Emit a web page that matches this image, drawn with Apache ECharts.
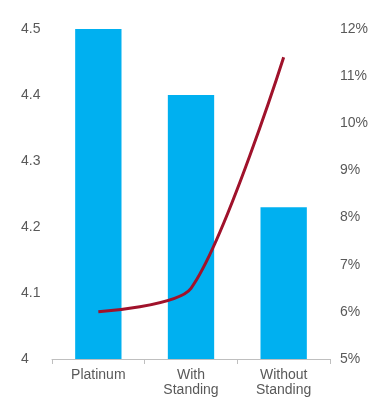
<!DOCTYPE html>
<html>
<head>
<meta charset="utf-8">
<script src="https://cdn.jsdelivr.net/npm/echarts@6/dist/echarts.min.js"></script>
<style>
html,body{margin:0;padding:0;background:#fff;}
#c{width:385px;height:409px;}
</style>
</head>
<body>
<div id="c"></div>
<script>
var categories = ['Platinum', 'With\nStanding', 'Without\nStanding'];
var barValues = [4.5, 4.4, 4.23];
var lineValues = [6.0, 6.5, 11.4];

var chart = echarts.init(document.getElementById('c'), null, {renderer: 'canvas'});
var textColor = '#595959';
var font = 'Liberation Sans, Arial, sans-serif';
chart.setOption({
  animation: false,
  grid: {left: 52, right: 55, top: 29, bottom: 50, containLabel: false},
  xAxis: {
    type: 'category',
    data: categories,
    boundaryGap: true,
    axisLine: {show: true, lineStyle: {color: '#BFBFBF', width: 1}},
    axisTick: {show: true, length: 5, alignWithLabel: false, lineStyle: {color: '#BFBFBF'}},
    axisLabel: {color: textColor, fontSize: 14, fontFamily: font, margin: 9, lineHeight: 15, interval: 0}
  },
  yAxis: [{
    type: 'value', min: 4, max: 4.5, interval: 0.1,
    splitLine: {show: false}, axisLine: {show: false}, axisTick: {show: false},
    axisLabel: {color: textColor, fontSize: 14, fontFamily: font, align: 'left', margin: 31,
      formatter: function (v) { return String(Math.round(v * 10) / 10); }}
  }, {
    type: 'value', min: 5, max: 12, interval: 1, position: 'right',
    splitLine: {show: false}, axisLine: {show: false}, axisTick: {show: false},
    axisLabel: {color: textColor, fontSize: 14, fontFamily: font, align: 'left', margin: 10,
      formatter: '{value}%'}
  }],
  series: [{
    type: 'bar', data: barValues, yAxisIndex: 0, barWidth: '50%',
    itemStyle: {color: '#00B0F0'}
  }, {
    type: 'line', data: lineValues, yAxisIndex: 1, smooth: 0.25,
    symbol: 'none', lineStyle: {color: '#A0122B', width: 3}
  }]
});
</script>
</body>
</html>
